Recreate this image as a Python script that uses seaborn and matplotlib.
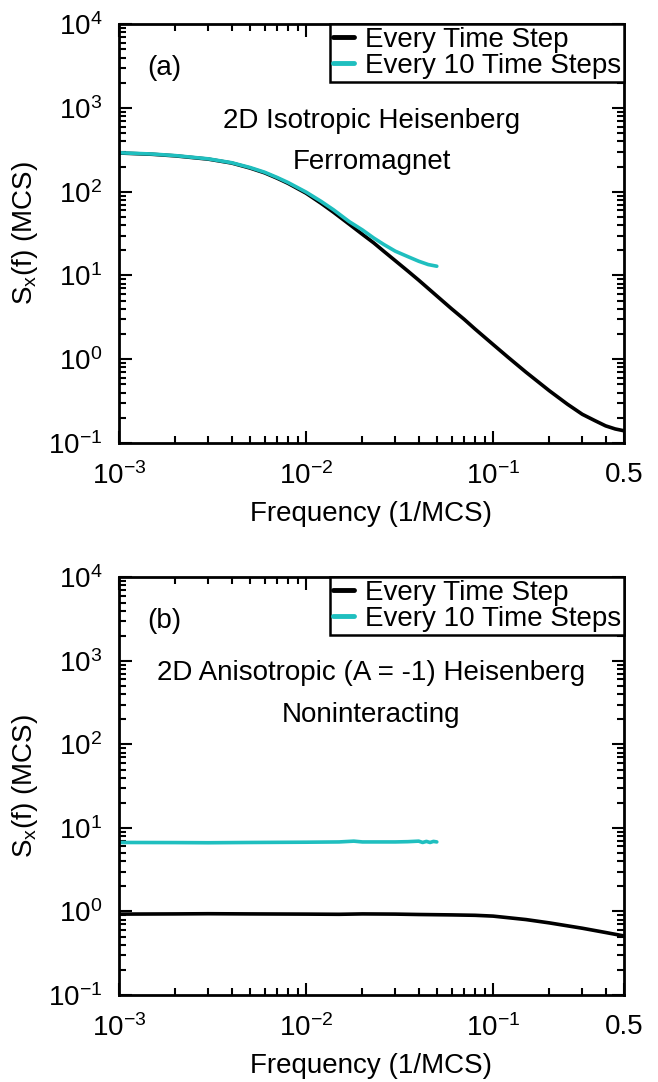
import numpy as np
import pandas as pd
import matplotlib
matplotlib.use("Agg")
import matplotlib.pyplot as plt
import matplotlib.ticker as mticker
import seaborn as sns

# ---- panel (a): 2D isotropic Heisenberg ferromagnet ----
freq_a_every = [1e-3, 1.5e-3, 2e-3, 3e-3, 4e-3, 5e-3, 6e-3, 7e-3, 8e-3, 1e-2,
                1.2e-2, 1.4e-2, 1.7e-2, 2e-2, 2.3e-2, 2.6e-2, 3e-2, 3.5e-2, 4e-2, 5e-2,
                6e-2, 7e-2, 8e-2, 0.1, 0.12, 0.15, 0.2, 0.25, 0.3, 0.35,
                0.4, 0.45, 0.5]
spec_a_every = [290, 280, 268, 245, 220, 192, 168, 145, 126, 96,
                73, 57, 41, 31, 24.5, 19.5, 15, 11.3, 8.8, 5.7,
                4.0, 3.0, 2.3, 1.5, 1.06, 0.70, 0.42, 0.29, 0.22, 0.185,
                0.16, 0.147, 0.14]

freq_a_ten = [1e-3, 1.5e-3, 2e-3, 3e-3, 4e-3, 5e-3, 6e-3, 7e-3, 8e-3, 1e-2,
              1.2e-2, 1.4e-2, 1.7e-2, 2e-2, 2.3e-2, 2.6e-2, 3e-2, 3.5e-2, 4e-2, 4.5e-2,
              5e-2]
spec_a_ten = [292, 282, 270, 247, 222, 195, 171, 148, 129, 99,
              77, 61, 44, 35, 28, 23.5, 19.5, 16.8, 14.8, 13.5,
              12.9]

# ---- panel (b): 2D anisotropic (A = -1) Heisenberg, noninteracting ----
freq_b_every = [1e-3, 2e-3, 3e-3, 5e-3, 1e-2, 1.5e-2, 2e-2, 3e-2, 4e-2, 6e-2,
                8e-2, 0.1, 0.15, 0.2, 0.3, 0.4, 0.5]
spec_b_every = [0.93, 0.935, 0.94, 0.935, 0.93, 0.925, 0.935, 0.93, 0.92, 0.91,
                0.9, 0.88, 0.80, 0.73, 0.63, 0.56, 0.51]

freq_b_ten = [1e-3, 2e-3, 3e-3, 5e-3, 1e-2, 1.5e-2, 1.8e-2, 2e-2, 3e-2, 3.5e-2,
              4e-2, 4.2e-2, 4.4e-2, 4.6e-2, 4.8e-2, 5e-2]
spec_b_ten = [6.7, 6.68, 6.65, 6.7, 6.75, 6.8, 6.95, 6.8, 6.8, 6.85,
              6.95, 6.7, 6.9, 6.7, 6.9, 6.8]

labels = ["Every Time Step", "Every 10 Time Steps"]
colors = ["black", "#1fbfbf"]
x_ticks = [1e-3, 1e-2, 1e-1, 0.5]
x_tick_labels = [r"$\mathregular{10^{-3}}$", r"$\mathregular{10^{-2}}$",
                 r"$\mathregular{10^{-1}}$", "0.5"]
y_ticks = [1e-1, 1e0, 1e1, 1e2, 1e3, 1e4]
y_tick_labels = [r"$\mathregular{10^{-1}}$", r"$\mathregular{10^{0}}$",
                 r"$\mathregular{10^{1}}$", r"$\mathregular{10^{2}}$",
                 r"$\mathregular{10^{3}}$", r"$\mathregular{10^{4}}$"]


def make_frame(f1, s1, f2, s2):
    d1 = pd.DataFrame({"f": f1, "S": s1, "series": labels[0]})
    d2 = pd.DataFrame({"f": f2, "S": s2, "series": labels[1]})
    return pd.concat([d1, d2], ignore_index=True)


df_a = make_frame(freq_a_every, spec_a_every, freq_a_ten, spec_a_ten)
df_b = make_frame(freq_b_every, spec_b_every, freq_b_ten, spec_b_ten)

sns.set_style("ticks")
plt.rcParams["font.family"] = ["Liberation Sans", "DejaVu Sans"]
plt.rcParams["mathtext.fontset"] = "custom"
plt.rcParams["mathtext.rm"] = "Liberation Sans"
plt.rcParams["mathtext.it"] = "Liberation Sans:italic"
plt.rcParams["text.color"] = "black"
plt.rcParams["axes.labelcolor"] = "black"

FS = 20

fig = plt.figure(figsize=(6.58, 10.82), dpi=100)
ax_a = fig.add_axes([0.181, 0.5906, 0.767, 0.387])
ax_b = fig.add_axes([0.181, 0.0804, 0.767, 0.386])

panels = [
    (ax_a, df_a, "(a)", "2D Isotropic Heisenberg", "Ferromagnet"),
    (ax_b, df_b, "(b)", "2D Anisotropic (A = -1) Heisenberg", "Noninteracting"),
]

for ax, df, tag, line1, line2 in panels:
    sns.lineplot(data=df, x="f", y="S", hue="series", palette=colors,
                 hue_order=labels, linewidth=2.6, estimator=None, sort=False, ax=ax)
    ax.set_xscale("log")
    ax.set_yscale("log")
    ax.set_xlim(1e-3, 0.5)
    ax.set_ylim(1e-1, 1e4)

    ax.set_xticks(x_ticks)
    ax.set_xticklabels(x_tick_labels)
    ax.set_yticks(y_ticks)
    ax.set_yticklabels(y_tick_labels)
    ax.xaxis.set_minor_locator(mticker.LogLocator(base=10, subs=np.arange(2, 10), numticks=20))
    ax.yaxis.set_minor_locator(mticker.LogLocator(base=10, subs=np.arange(2, 10), numticks=20))
    ax.xaxis.set_minor_formatter(mticker.NullFormatter())
    ax.yaxis.set_minor_formatter(mticker.NullFormatter())
    ax.tick_params(which="both", direction="in", top=True, right=True,
                   width=1.5, colors="black", labelsize=FS)
    ax.tick_params(which="major", length=9)
    ax.tick_params(which="minor", length=5)
    ax.tick_params(axis="x", which="major", pad=14)
    ax.tick_params(axis="y", which="major", pad=12)
    for sp in ax.spines.values():
        sp.set_linewidth(2.0)
        sp.set_color("black")

    ax.set_xlabel("Frequency (1/MCS)", fontsize=FS, labelpad=8)
    ax.set_ylabel(r"$\mathregular{S_x}$(f) (MCS)", fontsize=FS, labelpad=6)

    ax.text(0.09, 0.895, tag, transform=ax.transAxes, fontsize=FS,
            ha="center", va="center")
    ax.text(0.5, 0.77, line1, transform=ax.transAxes, fontsize=FS,
            ha="center", va="center")
    ax.text(0.5, 0.67, line2, transform=ax.transAxes, fontsize=FS,
            ha="center", va="center")

    leg = ax.legend(loc="upper right", fontsize=FS, frameon=True, fancybox=False,
                    borderaxespad=0, handlelength=0.75, handletextpad=0.4,
                    borderpad=0.1, labelspacing=0.0, title=None)
    leg.get_frame().set_edgecolor("black")
    leg.get_frame().set_linewidth(1.8)
    leg.get_frame().set_alpha(1)
    for ln in leg.get_lines():
        ln.set_linewidth(3.5)

fig.savefig("out.png", dpi=100)
